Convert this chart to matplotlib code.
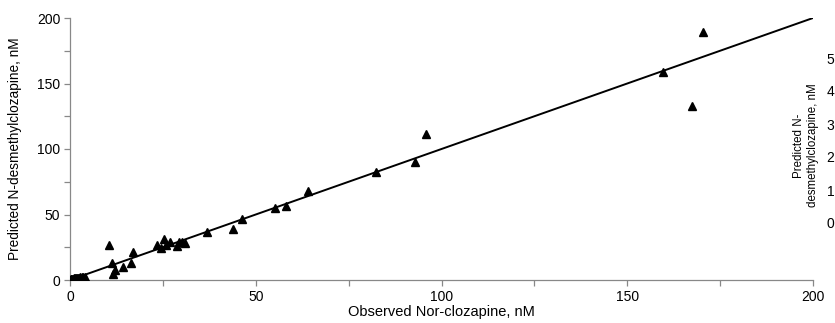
import numpy as np
import matplotlib
matplotlib.use("Agg")
import matplotlib.pyplot as plt

plt.rcParams['font.family'] = ['Liberation Sans', 'DejaVu Sans']

# observed vs predicted N-desmethylclozapine (nM)
observed = [0.1, 0.2, 0.3, 0.4, 0.5, 0.6, 0.8, 0.9, 1.0, 1.1, 1.3, 1.4, 1.5, 1.7, 1.9, 2.0, 2.2, 2.4,
            2.5, 2.8, 3.0, 3.2, 3.4, 3.6, 3.8, 4.0,
            10.5, 11.3, 11.5, 12.1, 14.2, 16.4, 17.0, 23.3, 24.5, 25.4, 25.8, 26.9, 28.7, 29.3, 30.1, 31.0,
            37.0, 44.0, 46.3, 55.3, 58.1, 64.0, 82.3, 93.0, 95.7, 159.6, 167.3, 170.5]
predicted = [0.2, 0.5, 0.1, 0.9, 0.6, 0.3, 1.0, 0.2, 0.7, 1.4, 0.5, 1.2, 0.9, 1.6, 0.4, 1.3, 1.8, 0.8,
             1.5, 2.2, 1.1, 2.0, 1.6, 2.4, 1.9, 2.1,
             26.7, 13.0, 4.6, 7.6, 10.2, 13.2, 21.6, 26.7, 24.2, 31.0, 26.7, 28.8, 26.0, 28.8, 29.3, 28.0,
             36.4, 38.7, 46.6, 55.2, 56.5, 68.0, 82.4, 89.8, 111.2, 159.0, 132.8, 189.0]
line_x = [0, 200]
line_y = [0, 200]

# the neighbouring panel's axis, only its first digits show at the edge
right_ticks = [0, 1, 2, 3, 4, 5]

W, H = 835, 323
fig = plt.figure(figsize=(W / 100, H / 100), dpi=100)
ax = fig.add_axes([70 / W, (H - 280) / H, (813 - 70) / W, (280 - 18) / H])

ax.plot(line_x, line_y, color='k', lw=1.4, zorder=2)
ax.plot(observed, predicted, ls='none', marker='^', ms=5.5, color='k', zorder=3)

ax.set_xlim(0, 200)
ax.set_ylim(0, 200)
ax.set_xticks([0, 50, 100, 150, 200])
ax.set_yticks([0, 50, 100, 150, 200])
ax.set_xticks([25, 75, 125, 175], minor=True)
ax.set_yticks([25, 75, 125, 175], minor=True)
for s in ['top', 'right']:
    ax.spines[s].set_visible(False)
for s in ['left', 'bottom']:
    ax.spines[s].set_color('#888888')
    ax.spines[s].set_linewidth(0.9)
ax.tick_params(which='both', direction='out', length=4, color='#888888', width=0.9,
               labelsize=10, pad=3)
ax.set_xlabel('Observed Nor-clozapine, nM', fontsize=10.5, labelpad=1)
ax.set_ylabel('Predicted N-desmethylclozapine, nM', fontsize=9.8)
ax.yaxis.set_label_coords(-0.064, 0.5)

# second panel, mostly off the right edge
ax2 = fig.add_axes([837 / W, (H - 223) / H, 0.3, (223 - 58) / H])
ax2.set_ylim(0, 5)
ax2.set_yticks(right_ticks)
ax2.set_xticks([])
for s in ['top', 'right']:
    ax2.spines[s].set_visible(False)
ax2.tick_params(axis='y', length=0, labelsize=10, pad=2)
ax2.set_ylabel('Predicted N-\ndesmethylclozapine, nM', fontsize=8.3)
ax2.yaxis.set_label_coords(-0.072, 0.47)

fig.savefig('out.png', dpi=100)
